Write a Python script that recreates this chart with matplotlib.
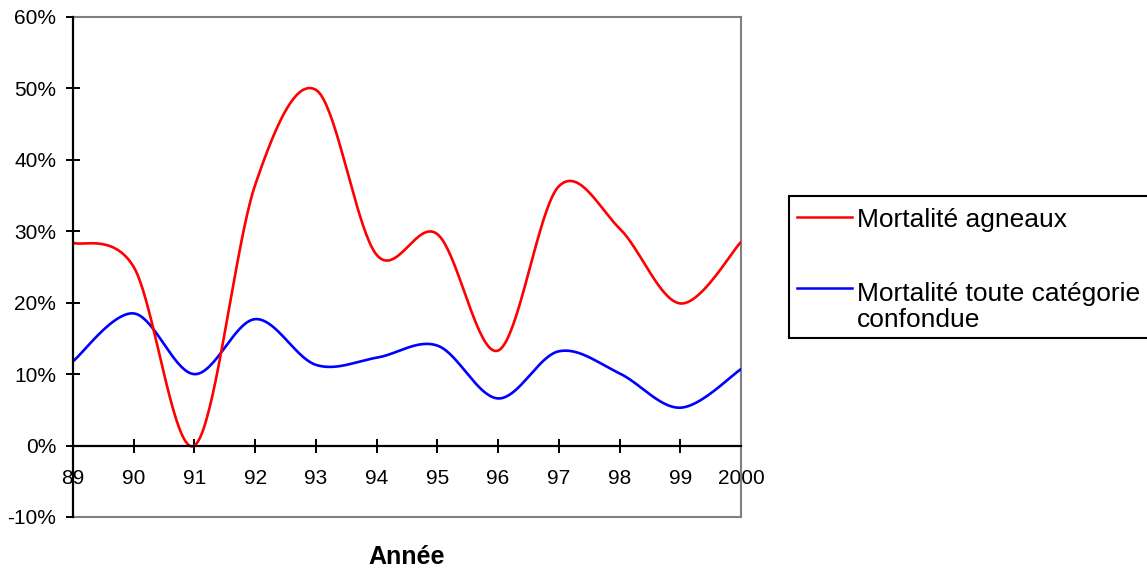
import numpy as np
import matplotlib
matplotlib.use("Agg")
import matplotlib.pyplot as plt
from matplotlib.lines import Line2D
from matplotlib.patches import Rectangle

# ---- data ----
years = ["89", "90", "91", "92", "93", "94", "95", "96", "97", "98", "99", "2000"]
mortalite_agneaux = [28.4, 25.0, 0.0, 36.5, 49.8, 26.7, 29.6, 13.3, 36.3, 30.4, 19.9, 28.5]
mortalite_toute = [11.8, 18.5, 10.0, 17.7, 11.3, 12.3, 14.0, 6.6, 13.2, 10.1, 5.3, 10.7]
y_ticks = [-10, 0, 10, 20, 30, 40, 50, 60]
y_tick_labels = ["-10%", "0%", "10%", "20%", "30%", "40%", "50%", "60%"]
legend_labels = ["Mortalité agneaux", "Mortalité toute catégorie", "confondue"]
xlabel = "Année"


def smooth(xs, ys, n=40):
    """Excel-like smoothed line: Catmull-Rom through points, as cubic Bezier."""
    P = np.column_stack([xs, ys]).astype(float)
    m = len(P)
    out = []
    for i in range(m - 1):
        p0 = P[i - 1] if i > 0 else P[i]
        p1 = P[i]
        p2 = P[i + 1]
        p3 = P[i + 2] if i + 2 < m else P[i + 1]
        c1 = p1 + (p2 - p0) / 6.0
        c2 = p2 - (p3 - p1) / 6.0
        t = np.linspace(0, 1, n, endpoint=(i == m - 2))[:, None]
        seg = ((1 - t) ** 3) * p1 + 3 * ((1 - t) ** 2) * t * c1 + 3 * (1 - t) * t ** 2 * c2 + t ** 3 * p2
        out.append(seg)
    out = np.vstack(out)
    return out[:, 0], out[:, 1]


plt.rcParams['font.family'] = ['Liberation Sans', 'DejaVu Sans']

W, H = 1147, 571
fig = plt.figure(figsize=(W / 100, H / 100), dpi=100)
ax = fig.add_axes([73 / W, 1 - 517 / H, (741 - 73) / W, (517 - 17) / H])

x = np.arange(len(years))
xr, yr = smooth(x, mortalite_agneaux)
xb, yb = smooth(x, mortalite_toute)
ax.plot(xb, yb, color="#0000FF", lw=1.9, solid_capstyle='round', zorder=3)
ax.plot(xr, yr, color="#FF0000", lw=1.9, solid_capstyle='round', zorder=3)

ax.set_xlim(0, len(years) - 1)
ax.set_ylim(-10, 60)

# axes styling
grey = "#808080"
ax.spines['left'].set_color('black')
ax.spines['left'].set_linewidth(1.6)
ax.spines['left'].set_zorder(4)
ax.spines['top'].set_color(grey)
ax.spines['right'].set_color(grey)
ax.spines['top'].set_linewidth(1.5)
ax.spines['right'].set_linewidth(1.5)
ax.spines['bottom'].set_position(('data', 0))
ax.spines['bottom'].set_color('black')
ax.spines['bottom'].set_linewidth(1.6)
ax.spines['bottom'].set_zorder(4)
ax.axhline(-10, color=grey, lw=1.5, clip_on=False, zorder=2)

ax.set_xticks(x)
ax.set_xticklabels(years)
ax.set_yticks(y_ticks)
ax.set_yticklabels(y_tick_labels)
ax.tick_params(axis='both', direction='inout', length=10, width=1.4, color='black',
               labelsize=15, labelcolor='black')
ax.tick_params(axis='y', pad=7)
ax.tick_params(axis='x', pad=12)

fig.text(407 / W, 1 - 557 / H, xlabel, ha='center', va='center', fontsize=18, fontweight='bold')

# legend (manual, clipped at right edge like the reference)
fig.add_artist(Rectangle((789 / W, 1 - 338 / H), (1160 - 789) / W, 142 / H,
                         transform=fig.transFigure, facecolor='white', edgecolor='black', lw=1.5))
fig.add_artist(Line2D([797 / W, 852 / W], [1 - 217 / H] * 2, transform=fig.transFigure,
                      color="#FF0000", lw=1.8))
fig.add_artist(Line2D([797 / W, 852 / W], [1 - 288 / H] * 2, transform=fig.transFigure,
                      color="#0000FF", lw=1.8))
fig.text(857 / W, 1 - 227 / H, legend_labels[0], ha='left', va='baseline', fontsize=19)
fig.text(857 / W, 1 - 301 / H, legend_labels[1], ha='left', va='baseline', fontsize=19)
fig.text(857 / W, 1 - 327 / H, legend_labels[2], ha='left', va='baseline', fontsize=19)

fig.savefig("out.png", dpi=100)
